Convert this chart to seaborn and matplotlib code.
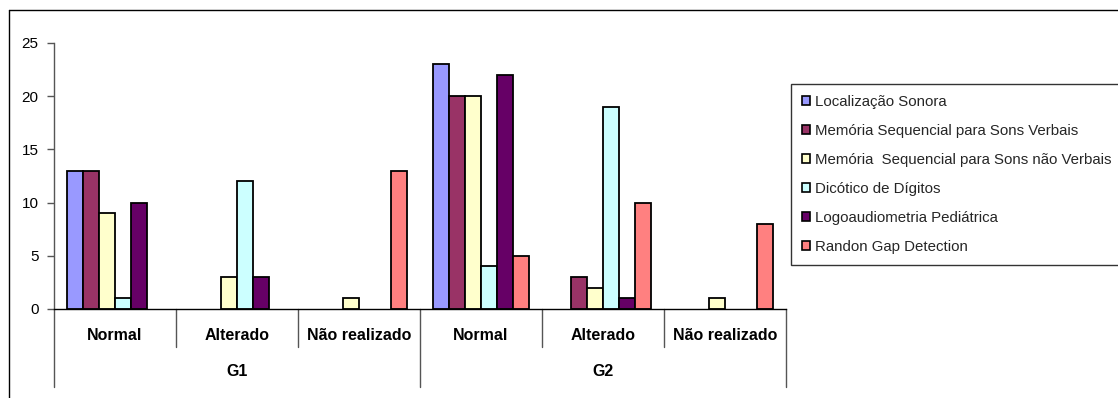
import matplotlib
matplotlib.use("Agg")
import matplotlib.pyplot as plt
import matplotlib.transforms as mtransforms
from matplotlib.patches import Patch
from matplotlib.lines import Line2D
import pandas as pd
import seaborn as sns

# Category structure: two groups, three outcomes each
groups = ["G1", "G2"]
outcomes = ["Normal", "Alterado", "Não realizado"]

tests = [
    "Localização Sonora",
    "Memória Sequencial para Sons Verbais",
    "Memória  Sequencial para Sons não Verbais",
    "Dicótico de Dígitos",
    "Logoaudiometria Pediátrica",
    "Randon Gap Detection",
]

# Counts per test, ordered G1 Normal, G1 Alterado, G1 Não realizado,
# G2 Normal, G2 Alterado, G2 Não realizado
localizacao = [13, 0, 0, 23, 0, 0]
memoria_verbal = [13, 0, 0, 20, 3, 0]
memoria_nao_verbal = [9, 3, 1, 20, 2, 1]
dicotico = [1, 12, 0, 4, 19, 0]
logoaudiometria = [10, 3, 0, 22, 1, 0]
gap_detection = [0, 0, 13, 5, 10, 8]

series = [localizacao, memoria_verbal, memoria_nao_verbal,
          dicotico, logoaudiometria, gap_detection]
colors = ["#9999FF", "#993366", "#FFFFCC", "#CCFFFF", "#660066", "#FF8080"]

categories = [f"{g}|{o}" for g in groups for o in outcomes]
rows = []
for test, vals in zip(tests, series):
    for cat, v in zip(categories, vals):
        rows.append({"categoria": cat, "teste": test, "valor": v})
df = pd.DataFrame(rows)

sns.set_theme(style="white")
plt.rcParams["font.family"] = ["Liberation Sans", "DejaVu Sans"]

W, H = 1118, 398
fig = plt.figure(figsize=(W / 100, H / 100), dpi=100)
fig.patch.set_facecolor("white")

x0, x1, ytop, ybot = 54, 786, 43, 309
ax = fig.add_axes([x0 / W, 1 - ybot / H, (x1 - x0) / W, (ybot - ytop) / H])

sns.barplot(data=df, x="categoria", y="valor", hue="teste",
            order=categories, hue_order=tests, palette=colors,
            edgecolor="black", linewidth=1.3, width=0.79,
            errorbar=None, legend=False, ax=ax, saturation=1)

# Zero counts are not drawn as bars
for p in ax.patches:
    if p.get_height() == 0:
        p.set_visible(False)

ax.set_xlim(-0.5, len(categories) - 0.5)
ax.set_ylim(0, 25)
ax.set_yticks(range(0, 26, 5))
ax.set_xticks([])
ax.set_xlabel("")
ax.set_ylabel("")
ax.tick_params(axis="y", direction="out", length=5, width=1, color="#555555",
               labelsize=11, pad=6, left=True, labelcolor="black")
for s in ["top", "right"]:
    ax.spines[s].set_visible(False)
ax.spines["left"].set_color("#555555")
ax.spines["left"].set_linewidth(1)
ax.spines["bottom"].set_color("black")
ax.spines["bottom"].set_linewidth(1)

# Two-level category axis
trans = mtransforms.blended_transform_factory(ax.transData, ax.transAxes)
ph = ybot - ytop
y_lab1 = (ybot - 335) / ph
y_lab2 = (ybot - 372) / ph
y_sep1 = (ybot - 347) / ph
y_sep2 = (ybot - 387) / ph

for i, cat in enumerate(categories):
    ax.text(i, y_lab1, cat.split("|")[1], transform=trans, ha="center",
            va="center", fontsize=11.5, fontweight="bold", color="black")
for gi, g in enumerate(groups):
    centre = gi * len(outcomes) + (len(outcomes) - 1) / 2
    ax.text(centre, y_lab2, g, transform=trans, ha="center", va="center",
            fontsize=11.5, fontweight="bold", color="black")

for k in range(len(categories) + 1):
    xb = k - 0.5
    long_sep = k % len(outcomes) == 0
    ax.plot([xb, xb], [0, y_sep2 if long_sep else y_sep1], transform=trans,
            color="#555555", lw=1, clip_on=False)

# Legend
handles = [Patch(facecolor=c, edgecolor="black", linewidth=1.2) for c in colors]
leg = fig.legend(handles, tests, loc="upper left",
                 bbox_to_anchor=(791 / W, 1 - 84 / H),
                 bbox_transform=fig.transFigure, frameon=True, fancybox=False,
                 fontsize=10.8, handlelength=0.56, handleheight=0.56,
                 handletextpad=0.35, labelspacing=1.0, borderpad=0.72,
                 borderaxespad=0)
leg.get_frame().set_edgecolor("black")
leg.get_frame().set_linewidth(1)

# Outer chart border
fig.add_artist(Line2D([9 / W, 9 / W], [0, 1 - 10 / H], transform=fig.transFigure,
                      color="black", lw=1))
fig.add_artist(Line2D([9 / W, 1], [1 - 10 / H, 1 - 10 / H],
                      transform=fig.transFigure, color="black", lw=1))

fig.savefig("out.png", dpi=100)
